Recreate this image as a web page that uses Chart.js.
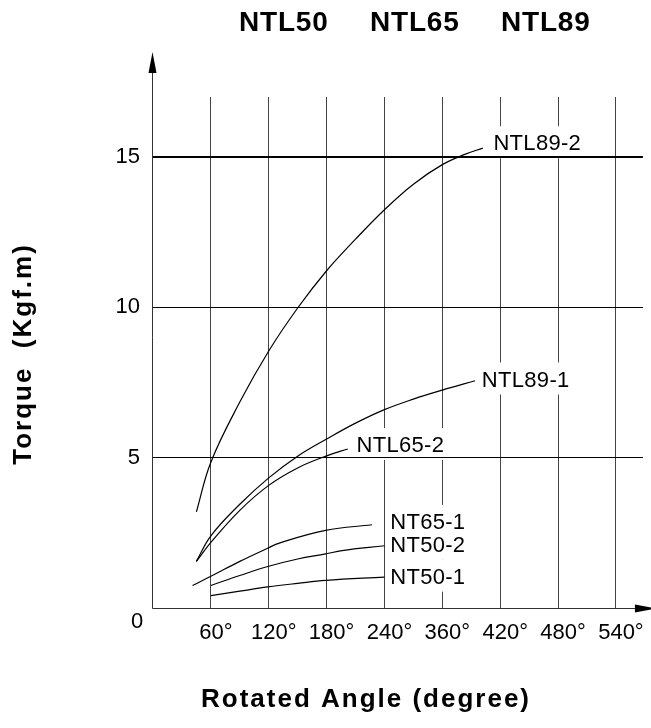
<!DOCTYPE html>
<html>
<head>
<meta charset="utf-8">
<script src="https://cdn.jsdelivr.net/npm/chart.js@4.4.1/dist/chart.umd.min.js"></script>
<style>
  html, body { margin: 0; padding: 0; background: #fff; }
</style>
</head>
<body>
<canvas id="torqueChart" width="651" height="728"></canvas>
<script>
// grid positions on the angle axis and the labels printed under them
const xTickValues = [60, 120, 180, 240, 300, 360, 420, 480];
const xTickLabels = ['60°', '120°', '180°', '240°', '360°', '420°', '480°', '540°'];
const yTickValues = [0, 5, 10, 15];
const modelNames = ['NTL50', 'NTL65', 'NTL89'];

const seriesNames = ['NTL89-2', 'NTL89-1', 'NTL65-2', 'NT65-1', 'NT50-2', 'NT50-1'];
// [angle, torque]
const ntl89_2 = [[45, 3.2], [60, 4.85], [90, 6.85], [120, 8.55], [150, 9.98], [180, 11.22], [210, 12.27], [240, 13.25], [270, 14.1], [300, 14.75], [324, 15.1], [342, 15.3]];
const ntl89_1 = [[45, 1.55], [60, 2.4], [90, 3.45], [120, 4.33], [150, 5.05], [180, 5.62], [210, 6.15], [240, 6.6], [270, 6.95], [300, 7.25], [334, 7.56]];
const ntl65_2 = [[45, 1.55], [60, 2.18], [90, 3.25], [120, 4.08], [150, 4.66], [180, 5.06], [202, 5.29]];
const nt65_1 = [[41, 0.75], [61, 1.07], [90, 1.55], [119, 1.99], [131, 2.16], [179, 2.58], [227, 2.77]];
const nt50_2 = [[60, 0.75], [90, 1.08], [119, 1.38], [150, 1.63], [179, 1.8], [196, 1.91], [240, 2.07]];
const nt50_1 = [[60, 0.41], [90, 0.56], [119, 0.7], [150, 0.82], [179, 0.92], [240, 1.03]];
const seriesData = [ntl89_2, ntl89_1, ntl65_2, nt65_1, nt50_2, nt50_1];
// where each curve name is written (angle, torque of the text's left/middle)
const labelAnchors = [[353, 15.43], [341, 7.57], [211, 5.39], [246, 2.83], [246, 2.07], [246, 1.01]];

const fontFamily = "'Liberation Sans', Arial, Helvetica, sans-serif";

const sketchPlugin = {
    id: 'sketch',
    beforeDatasetsDraw(chart) {
        // white patches behind the curve names break the vertical grid lines
        const { ctx, scales: { x, y } } = chart;
        ctx.save();
        ctx.font = '22px ' + fontFamily;
        ctx.fillStyle = '#fff';
        seriesNames.forEach((name, i) => {
            const px = x.getPixelForValue(labelAnchors[i][0]);
            const py = y.getPixelForValue(labelAnchors[i][1]);
            const w = ctx.measureText(name).width;
            ctx.fillRect(px - 3, py - 18, w + 6, 32);
        });
        ctx.restore();
    },
    afterDraw(chart) {
        const { ctx, chartArea, scales: { x, y } } = chart;
        const ax = chartArea.left - 0.5;
        const ay = chartArea.bottom + 0.5;
        ctx.save();

        // axes with arrow heads
        ctx.strokeStyle = '#333';
        ctx.lineWidth = 1;
        ctx.beginPath();
        ctx.moveTo(ax, ay);
        ctx.lineTo(ax, chartArea.top - 30);
        ctx.moveTo(ax, ay);
        ctx.lineTo(chartArea.right, ay);
        ctx.stroke();
        ctx.fillStyle = '#000';
        ctx.beginPath();
        ctx.moveTo(ax, chartArea.top - 45);
        ctx.lineTo(ax - 4, chartArea.top - 24);
        ctx.lineTo(ax + 4, chartArea.top - 24);
        ctx.closePath();
        ctx.fill();
        ctx.beginPath();
        ctx.moveTo(chartArea.right + 13, ay);
        ctx.lineTo(chartArea.right - 8, ay - 4);
        ctx.lineTo(chartArea.right - 8, ay + 4);
        ctx.closePath();
        ctx.fill();

        // origin label
        ctx.font = '22px ' + fontFamily;
        ctx.textAlign = 'center';
        ctx.textBaseline = 'middle';
        ctx.fillText('0', chartArea.left - 16, chartArea.bottom + 14);

        // curve names
        ctx.textAlign = 'left';
        ctx.letterSpacing = '0.3px';
        seriesNames.forEach((name, i) => {
            ctx.fillText(name, x.getPixelForValue(labelAnchors[i][0]), y.getPixelForValue(labelAnchors[i][1]));
        });

        // model names on top
        ctx.font = 'bold 28px ' + fontFamily;
        ctx.letterSpacing = '0.8px';
        modelNames.forEach((name, i) => {
            ctx.fillText(name, chartArea.left + 86 + i * 131, 23);
        });

        // axis titles
        ctx.font = 'bold 26px ' + fontFamily;
        ctx.letterSpacing = '2px';
        ctx.textAlign = 'center';
        ctx.fillText('Rotated Angle (degree)', chartArea.left + 213, 700);
        ctx.translate(24, 354);
        ctx.rotate(-Math.PI / 2);
        ctx.fillText('Torque  (Kgf.m)', 0, 0);
        ctx.restore();
    }
};

const ctx = document.getElementById('torqueChart').getContext('2d');
new Chart(ctx, {
    type: 'line',
    data: {
        datasets: seriesNames.map((name, i) => ({
            label: name,
            data: seriesData[i].map(p => ({ x: p[0], y: p[1] })),
            borderColor: '#000',
            borderWidth: 1.2,
            pointRadius: 0,
            fill: false,
            tension: 0.4
        }))
    },
    options: {
        responsive: false,
        animation: false,
        layout: { padding: { top: 97, right: 6, left: 0, bottom: 0 } },
        plugins: {
            legend: { display: false },
            tooltip: { enabled: false }
        },
        scales: {
            x: {
                type: 'linear',
                min: 0,
                max: 508,
                afterBuildTicks: axis => { axis.ticks = xTickValues.map(v => ({ value: v })); },
                afterFit: axis => { axis.height = 120; },
                grid: { color: '#444', lineWidth: 1, drawTicks: false },
                border: { display: false },
                ticks: {
                    color: '#000',
                    font: { family: fontFamily, size: 22 },
                    padding: 12,
                    labelOffset: 5,
                    maxRotation: 0,
                    autoSkip: false,
                    callback: (v, i) => xTickLabels[i]
                }
            },
            y: {
                type: 'linear',
                min: 0,
                max: 17,
                afterBuildTicks: axis => { axis.ticks = yTickValues.map(v => ({ value: v })); },
                afterFit: axis => { axis.width = 153; },
                grid: {
                    z: 1,
                    color: '#000',
                    lineWidth: c => c.tick.value === 15 ? 2 : (c.tick.value === 0 ? 0 : 1),
                    drawTicks: false
                },
                border: { display: false },
                ticks: {
                    color: '#000',
                    font: { family: fontFamily, size: 22 },
                    padding: 13,
                    callback: v => v === 0 ? '' : v
                }
            }
        }
    },
    plugins: [sketchPlugin]
});
</script>
</body>
</html>
